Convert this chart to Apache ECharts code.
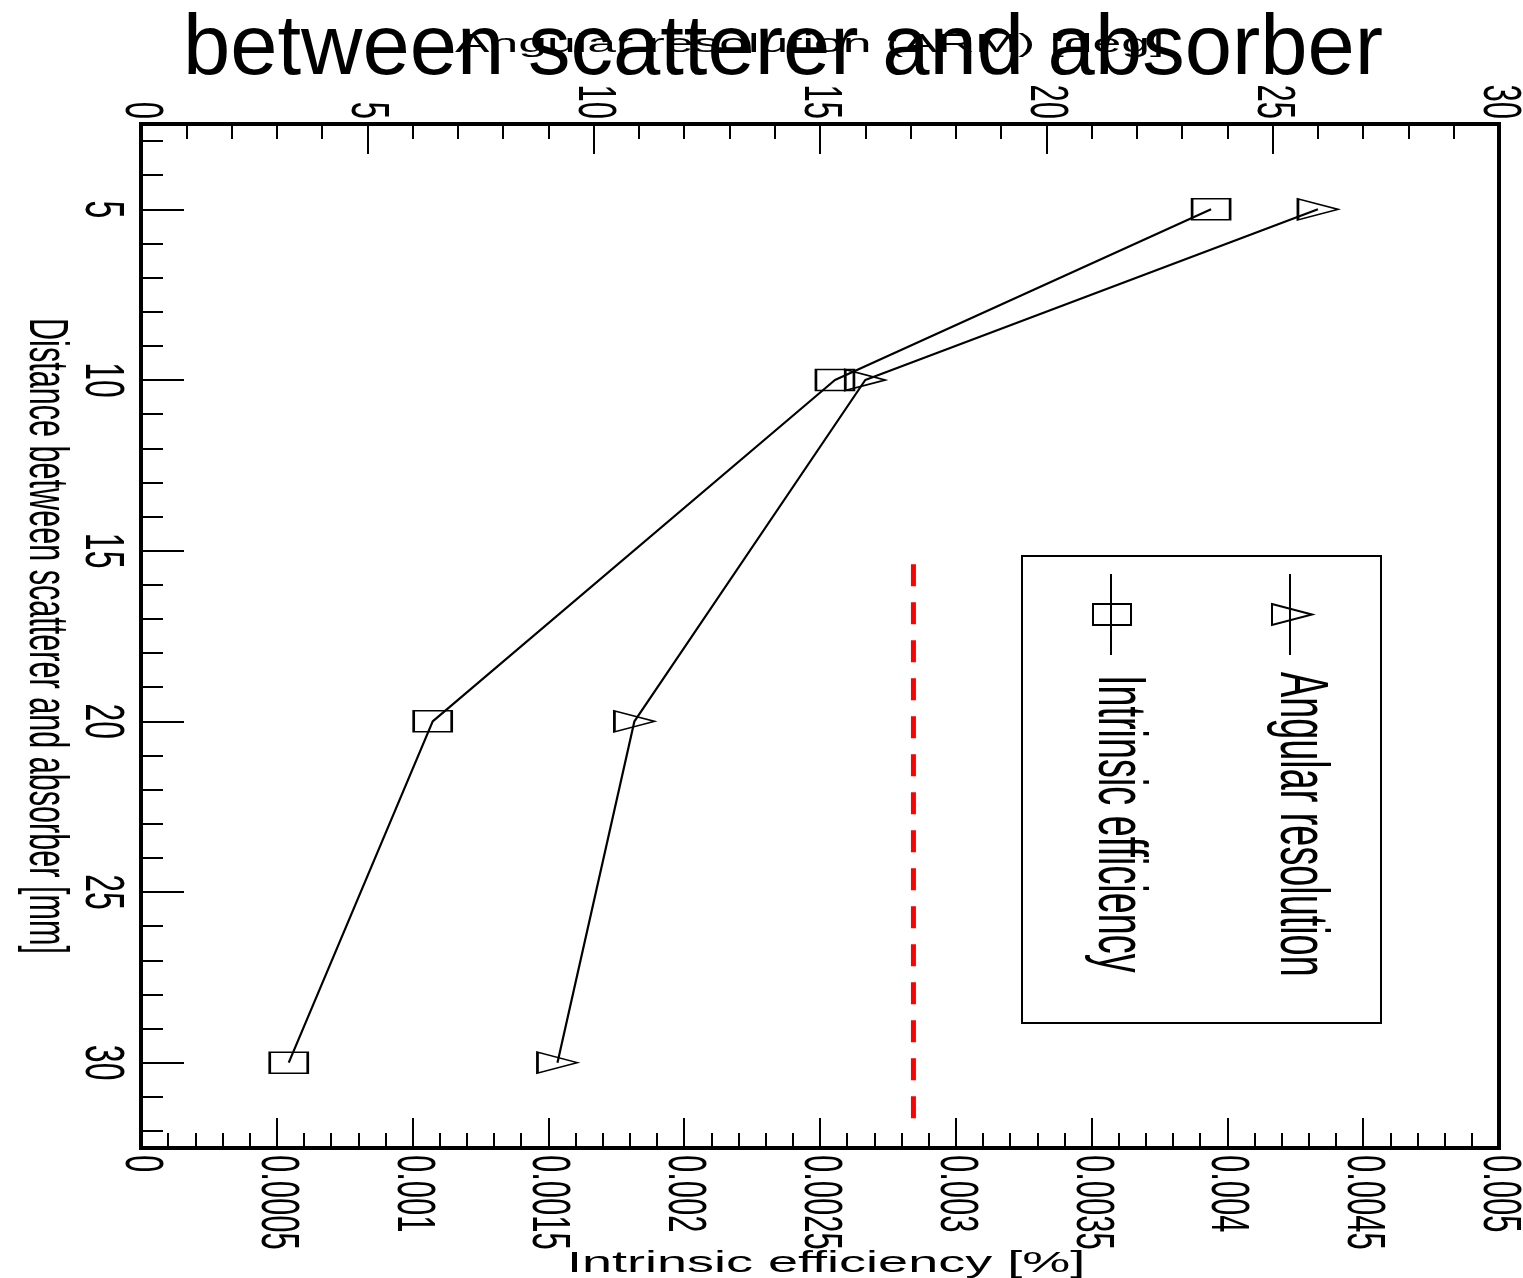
<!DOCTYPE html>
<html>
<head>
<meta charset="utf-8">
<script src="https://cdn.jsdelivr.net/npm/echarts@6/dist/echarts.min.js"></script>
<style>
html,body{margin:0;padding:0;background:#fff;}
#chart{width:1523px;height:1278px;}
</style>
</head>
<body>
<div id="chart"></div>
<script>
// ---- data ----
const distances = [5, 10, 20, 30];
const angularResolution = [26.0, 16.0, 10.9, 9.2];
const intrinsicEfficiency = [0.00394, 0.002555, 0.001074, 0.000544];
const refLineEfficiency = 0.002844;
const refLineDistance = [15.4, 31.8];
const distanceMajorTicks = [5, 10, 15, 20, 25, 30];
const distanceMinorTicks = [3, 4, 6, 7, 8, 9, 11, 12, 13, 14, 16, 17, 18, 19, 21, 22, 23, 24, 26, 27, 28, 29, 31, 32];
const titleText = 'between scatterer and absorber';
const angularAxisTitle = 'Angular resolution (ARM) [deg]';
const efficiencyAxisTitle = 'Intrinsic efficiency [%]';
const distanceAxisTitle = 'Distance between scatterer and absorber [mm]';
const legendNames = ['Angular resolution', 'Intrinsic efficiency'];

const FONT = "'Liberation Sans',Arial,Helvetica,sans-serif";
const LABEL_STRETCH = 1.75;

const chart = echarts.init(document.getElementById('chart'), null, {renderer: 'canvas'});

const angPts = distances.map((d, i) => [angularResolution[i], d]);
const effPts = distances.map((d, i) => [intrinsicEfficiency[i], d]);
const refPts = refLineDistance.map(d => [refLineEfficiency, d]);

const tickLabel = {fontFamily: FONT, fontSize: 31, color: '#000', rotate: -90};

const option = {
  backgroundColor: '#fff',
  animation: false,
  grid: {left: 141, top: 124, right: 24, bottom: 130, show: true, borderColor: '#000', borderWidth: 4, backgroundColor: 'transparent'},
  xAxis: [
    {
      type: 'value', position: 'bottom', min: 0, max: 0.005, interval: 0.0005,
      axisLine: {show: true, onZero: false, lineStyle: {color: '#000', width: 4}},
      axisTick: {show: true, inside: true, length: 30, lineStyle: {color: '#000', width: 2}},
      minorTick: {show: true, splitNumber: 5, length: 15, lineStyle: {color: '#000', width: 2}},
      splitLine: {show: false},
      axisLabel: Object.assign({}, tickLabel, {margin: 7, formatter: v => v === 0 ? '0' : String(parseFloat(v.toFixed(4)))})
    },
    {
      type: 'value', position: 'top', min: 0, max: 30, interval: 5,
      axisLine: {show: true, onZero: false, lineStyle: {color: '#000', width: 4}},
      axisTick: {show: true, inside: true, length: 30, lineStyle: {color: '#000', width: 2}},
      minorTick: {show: true, splitNumber: 5, length: 15, lineStyle: {color: '#000', width: 2}},
      splitLine: {show: false},
      axisLabel: Object.assign({}, tickLabel, {rotate: 90, fontSize: 31, margin: 5})
    }
  ],
  yAxis: [
    {
      type: 'value', position: 'left', min: 2.5, max: 32.5, inverse: true,
      axisLine: {show: true, onZero: false, lineStyle: {color: '#000', width: 4}},
      axisTick: {show: true, inside: true, length: 43, customValues: distanceMajorTicks, lineStyle: {color: '#000', width: 2}},
      splitLine: {show: false},
      axisLabel: Object.assign({}, tickLabel, {fontSize: 32, margin: 12, customValues: distanceMajorTicks})
    },
    {
      type: 'value', position: 'left', min: 2.5, max: 32.5, inverse: true,
      axisLine: {show: false},
      axisTick: {show: true, inside: true, length: 22, customValues: distanceMinorTicks, lineStyle: {color: '#000', width: 2}},
      splitLine: {show: false},
      axisLabel: {show: false}
    }
  ],
  series: [
    {
      name: legendNames[0], type: 'line', xAxisIndex: 1, yAxisIndex: 0, data: angPts,
      symbol: 'triangle', symbolSize: [21, 40], symbolRotate: -90, showAllSymbol: true,
      lineStyle: {color: '#000', width: 2.2},
      itemStyle: {color: 'rgba(0,0,0,0)', borderColor: '#000', borderWidth: 2},
      z: 3
    },
    {
      name: legendNames[1], type: 'line', xAxisIndex: 0, yAxisIndex: 0, data: effPts,
      symbol: 'rect', symbolSize: [38, 21], showAllSymbol: true,
      lineStyle: {color: '#000', width: 2.2},
      itemStyle: {color: 'rgba(0,0,0,0)', borderColor: '#000', borderWidth: 2},
      z: 3
    },
    {
      name: 'reference', type: 'line', xAxisIndex: 0, yAxisIndex: 0, data: refPts,
      symbol: 'none', lineStyle: {color: '#ff0000', width: 5, type: [22, 16]}, z: 2
    }
  ],
  graphic: {elements: [
    // main title
    {type: 'text', x: 783, y: 93, z: 10,
     style: {text: titleText, font: '85px ' + FONT, fill: '#000', align: 'center', verticalAlign: 'bottom'}},
    // top axis title (stretched)
    {type: 'text', x: 455, y: 58, scaleX: 1.95, z: 9,
     style: {text: angularAxisTitle, font: '26.5px ' + FONT, fill: '#000', align: 'left', verticalAlign: 'bottom'}},
    // bottom axis title (stretched)
    {type: 'text', x: 567, y: 1279, scaleX: 1.8, z: 9,
     style: {text: efficiencyAxisTitle, font: '30px ' + FONT, fill: '#000', align: 'left', verticalAlign: 'bottom'}},
    // left axis title (rotated, stretched across)
    {type: 'text', x: 45, y: 636, rotation: -Math.PI / 2, scaleY: 1.8, z: 9,
     style: {text: distanceAxisTitle, font: '30.6px ' + FONT, fill: '#000', align: 'center', verticalAlign: 'middle'}},
    // legend box
    {type: 'rect', shape: {x: 1022, y: 556, width: 359, height: 467}, z: 8,
     style: {fill: '#fff', stroke: '#000', lineWidth: 2}},
    // legend entry 1
    {type: 'line', shape: {x1: 1290, y1: 574, x2: 1290, y2: 655}, z: 9, style: {stroke: '#000', lineWidth: 2}},
    {type: 'polygon', shape: {points: [[1272, 604], [1312, 614.5], [1272, 625]]}, z: 9, style: {fill: 'none', stroke: '#000', lineWidth: 2}},
    {type: 'text', x: 1300, y: 672, rotation: -Math.PI / 2, scaleY: 1.8, z: 9,
     style: {text: legendNames[0], font: '37.8px ' + FONT, fill: '#000', align: 'left', verticalAlign: 'middle'}},
    // legend entry 2
    {type: 'line', shape: {x1: 1111, y1: 574, x2: 1111, y2: 655}, z: 9, style: {stroke: '#000', lineWidth: 2}},
    {type: 'rect', shape: {x: 1093, y: 604, width: 38, height: 21}, z: 9, style: {fill: 'none', stroke: '#000', lineWidth: 2}},
    {type: 'text', x: 1118, y: 675, rotation: -Math.PI / 2, scaleY: 1.8, z: 9,
     style: {text: legendNames[1], font: '37.8px ' + FONT, fill: '#000', align: 'left', verticalAlign: 'middle'}}
  ]}
};
chart.setOption(option);

// The reference glyphs of the rotated tick labels are stretched across their
// reading direction; apply the same aspect to the axis label text elements.
function isQuarterTurnCW(rot) {
  const twoPi = Math.PI * 2;
  const r = (((rot || 0) % twoPi) + twoPi) % twoPi;
  return Math.abs(r - 1.5 * Math.PI) < 1e-3;
}
function stretchTickLabels() {
  try {
    const zr = chart.getZr();
    zr.storage.traverse(function (el) {
      if (el.type === 'text' && !el.__stretched && isQuarterTurnCW(el.rotation) &&
          (el.scaleY == null || el.scaleY === 1)) {
        el.scaleY = LABEL_STRETCH;
        el.__stretched = true;
        if (el.markRedraw) el.markRedraw();
      }
    });
    zr.refreshImmediately();
  } catch (e) { /* keep default labels */ }
}
stretchTickLabels();
chart.on('finished', stretchTickLabels);
</script>
</body>
</html>
